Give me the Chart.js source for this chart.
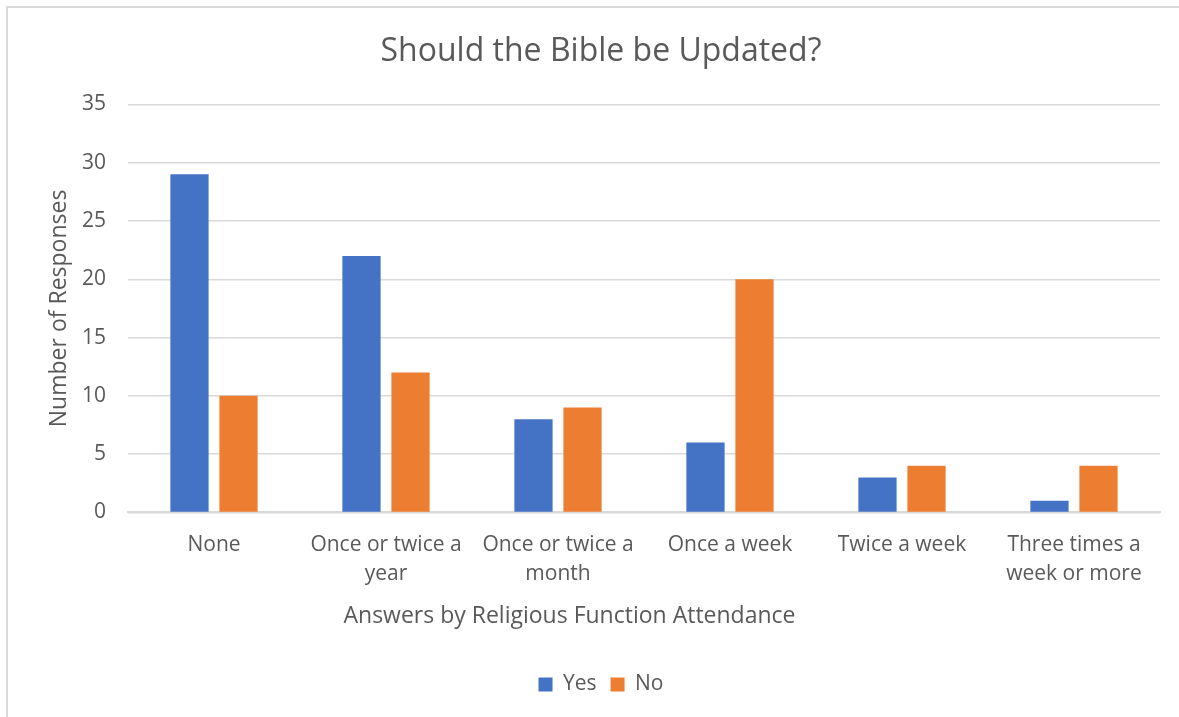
<!DOCTYPE html>
<html>
<head>
<meta charset="utf-8">
<script src="https://cdn.jsdelivr.net/npm/chart.js@4"></script>
<style>
  html, body { margin: 0; padding: 0; background: #fff; }
  #frame { position: absolute; left: 6px; top: 6px; width: 1173px; height: 711px;
           border-left: 2px solid #d9d9d9; border-top: 2px solid #d9d9d9; box-sizing: border-box; }
  #wrap { position: absolute; left: 0; top: 0; width: 1179px; height: 717px; }
</style>
</head>
<body>
<div id="frame"></div>
<div id="wrap"><canvas id="myChart"></canvas></div>
<script>
// data
var categorias = [["None"], ["Once or twice a", "year"], ["Once or twice a", "month"],
                  ["Once a week"], ["Twice a week"], ["Three times a", "week or more"]];
var yes = [29, 22, 8, 6, 3, 1];
var no = [10, 12, 9, 20, 4, 4];
var yTicks = [0, 5, 10, 15, 20, 25, 30, 35];
var xAxisTitle = "Answers by Religious Function Attendance";

Chart.defaults.font.family = "'Open Sans', sans-serif";
Chart.defaults.color = "#595959";

// the x title sits a bit left of the plot centre in the original, so it is drawn by hand
const xTitlePlugin = {
  id: "xTitle",
  afterDraw(chart) {
    const ctx = chart.ctx, sx = chart.scales.x;
    ctx.save();
    ctx.font = "23px 'Open Sans', sans-serif";
    ctx.fillStyle = "#595959";
    ctx.textAlign = "center";
    ctx.textBaseline = "middle";
    ctx.fillText(xAxisTitle, chart.width / 2 - 20, sx.bottom - 30 - 14);
    ctx.restore();
  }
};

function createBarGraph(labels, val1, val2) {
  let barChart = new Chart("myChart", {
    type: "bar",
    data: {
      labels: labels,
      datasets: [
        { label: "Yes", data: val1, backgroundColor: "#4472C4" },
        { label: "No", data: val2, backgroundColor: "#ED7D31" }
      ]
    },
    plugins: [xTitlePlugin],
    options: {
      responsive: true,
      maintainAspectRatio: false,
      animation: false,
      layout: { padding: { left: 42, right: 19, top: 33, bottom: 12 } },
      datasets: { bar: { categoryPercentage: 0.57, barPercentage: 0.78 } },
      plugins: {
        title: {
          display: true, text: "Should the Bible be Updated?",
          font: { size: 32, weight: "normal" }, color: "#595959",
          padding: { top: 0, bottom: 33 }
        },
        legend: {
          position: "bottom",
          labels: { boxWidth: 14, boxHeight: 14, font: { size: 21 }, padding: 14 }
        },
        tooltip: { enabled: false }
      },
      scales: {
        x: {
          grid: { display: false },
          border: { color: "#d9d9d9", width: 2 },
          ticks: { font: { size: 21, lineHeight: 1.38 }, maxRotation: 0, padding: 10 },
          afterFit: function (axis) { axis.height += 4 + 27.6 + 30; }
        },
        y: {
          min: 0, max: 35,
          afterBuildTicks: function (axis) { axis.ticks = yTicks.map(v => ({ value: v })); },
          afterFit: function (axis) { axis.width = 86; },
          grid: { color: "#d9d9d9", lineWidth: 1.5, drawTicks: false },
          border: { display: false },
          ticks: { font: { size: 21 }, padding: 22 },
          title: { display: true, text: "Number of Responses", font: { size: 23 }, padding: { bottom: 4 } }
        }
      }
    }
  });
}

createBarGraph(categorias, yes, no);
</script>
</body>
</html>
